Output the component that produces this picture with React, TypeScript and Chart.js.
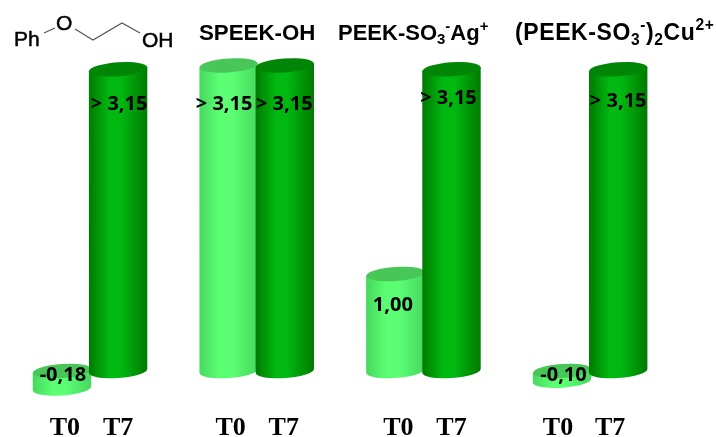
import React, { useEffect, useRef } from "react";
import { Chart, BarController, BarElement, CategoryScale, LinearScale } from "chart.js";

const categories = ["Ph-O-CH2CH2-OH", "SPEEK-OH", "PEEK-SO3-Ag+", "(PEEK-SO3-)2Cu2+"];
const seriesNames = ["T0", "T7"];
const t0Values = [-0.18, 3.15, 1.0, -0.1];
const t7Values = [3.11, 3.15, 3.11, 3.11];
const t0Labels = ["-0,18", "> 3,15", "1,00", "-0,10"];
const t7Labels = ["> 3,15", "> 3,15", "> 3,15", "> 3,15"];

const t0Offsets = [[1, 4], [-4.5, 38.5], [-2.5, 31], [1.5, 4]];
const t7Offsets = [[1, 35], [-0.5, 38.5], [-3, 29], [0, 32]];
const t0TickDx = [3, 2, 3, -4];
const t7TickDx = [0, -1, 0, -8];

type Seg = { t: string; k?: "sub" | "sup" };
const titleParts: (Seg[] | null)[] = [
  null,
  [{ t: "SPEEK-OH" }],
  [{ t: "PEEK-SO" }, { t: "3", k: "sub" }, { t: "-", k: "sup" }, { t: "Ag" }, { t: "+", k: "sup" }],
  [{ t: "(PEEK-SO" }, { t: "3", k: "sub" }, { t: "-", k: "sup" }, { t: ")" }, { t: "2", k: "sub" }, { t: "Cu" }, { t: "2+", k: "sup" }],
];
const titleStart = [0, 199, 338, 515];
const titleSize = [0, 22.3, 22, 23];
const titleSpacing = [0, 0, 0, 0.6];
const SANS = '"Liberation Sans", Arial, sans-serif';

class CylinderBar extends BarElement {
  static id = "cylinderBar";
  draw(ctx: CanvasRenderingContext2D) {
    const { x, y, base, width } = (this as any).getProps(["x", "y", "base", "width"]);
    const o = (this as any).options;
    const top = Math.min(y, base);
    const bottom = Math.max(y, base);
    const rx = width / 2;
    const ry = 7;
    const rot = -0.07;
    const l = x - rx;
    const r = x + rx;
    const tilt = rx * Math.sin(rot);
    const g = ctx.createLinearGradient(l, 0, r, 0);
    const [edge, mid, cap] = o.backgroundColor.split("|");
    g.addColorStop(0, edge);
    g.addColorStop(0.35, mid);
    g.addColorStop(0.55, mid);
    g.addColorStop(1, edge);
    ctx.save();
    ctx.fillStyle = g;
    ctx.beginPath();
    ctx.moveTo(l, top - tilt);
    ctx.lineTo(r, top + tilt);
    ctx.lineTo(r, bottom + tilt);
    ctx.ellipse(x, bottom, rx, ry, rot, 0, Math.PI);
    ctx.closePath();
    ctx.fill();
    ctx.fillStyle = cap;
    ctx.beginPath();
    ctx.ellipse(x, top, rx, ry, rot, 0, Math.PI * 2);
    ctx.fill();
    ctx.restore();
  }
}
class CylinderController extends BarController {
  static id = "cylinder";
  static defaults = { ...(BarController as any).defaults, dataElementType: "cylinderBar" };
  static overrides = (BarController as any).overrides;
}

function drawRich(ctx: CanvasRenderingContext2D, segs: Seg[], x: number, y: number, size: number, spacing: number) {
  let cx = x;
  (ctx as any).letterSpacing = `${spacing}px`;
  segs.forEach((s) => {
    const small = s.k !== undefined;
    ctx.font = `bold ${small ? size * 0.68 : size}px ${SANS}`;
    const dy = s.k === "sub" ? size * 0.2 : s.k === "sup" ? -size * 0.42 : 0;
    ctx.fillText(s.t, cx, y + dy);
    cx += ctx.measureText(s.t).width;
  });
  (ctx as any).letterSpacing = "0px";
}

const decor = {
  id: "decor",
  beforeDatasetsDraw(chart: any) {
    [0, 1].forEach((i) => chart.getDatasetMeta(i).controller.draw());
    return false;
  },
  afterDraw(chart: any) {
    const ctx: CanvasRenderingContext2D = chart.ctx;
    ctx.save();
    ctx.fillStyle = "#000";
    const sets = [
      { labels: t0Labels, off: t0Offsets, dx: t0TickDx },
      { labels: t7Labels, off: t7Offsets, dx: t7TickDx },
    ];
    sets.forEach((s, i) => {
      chart.getDatasetMeta(i).data.forEach((bar: any, j: number) => {
        const upper = Math.min(bar.y, bar.base);
        ctx.font = 'bold 20px "Open Sans", sans-serif';
        ctx.textAlign = "center";
        ctx.textBaseline = "middle";
        ctx.fillText(s.labels[j], bar.x + s.off[j][0], upper + s.off[j][1]);
        ctx.font = 'bold 26px "Liberation Serif", serif';
        ctx.textBaseline = "alphabetic";
        ctx.fillText(seriesNames[i], bar.x + s.dx[j], 435);
      });
    });
    ctx.textAlign = "left";
    ctx.textBaseline = "alphabetic";
    titleParts.forEach((segs, i) => {
      if (segs) drawRich(ctx, segs, titleStart[i], 40, titleSize[i], titleSpacing[i]);
    });
    ctx.font = `21px ${SANS}`;
    ctx.lineWidth = 0.5;
    ctx.strokeStyle = "#000";
    [["Ph", 14, 46], ["O", 56, 30], ["OH", 142, 47]].forEach(([t, x, y]) => {
      ctx.fillText(t as string, x as number, y as number);
      ctx.strokeText(t as string, x as number, y as number);
    });
    ctx.strokeStyle = "#555";
    ctx.lineWidth = 1.2;
    ctx.beginPath();
    ctx.moveTo(44, 33);
    ctx.lineTo(55, 28);
    ctx.moveTo(75, 29);
    ctx.lineTo(93, 40);
    ctx.lineTo(122, 23);
    ctx.lineTo(140, 33);
    ctx.stroke();
    ctx.restore();
  },
};

Chart.register(CategoryScale, LinearScale, BarController, BarElement, CylinderBar as any, CylinderController as any);

export default function App() {
  const ref = useRef<HTMLCanvasElement>(null);
  useEffect(() => {
    const chart = new Chart(ref.current!, {
      type: "cylinder" as any,
      data: {
        labels: categories,
        datasets: [
          { label: seriesNames[0], data: t0Values, backgroundColor: "#46d85e|#5cff74|#48c658" },
          { label: seriesNames[1], data: t7Values, backgroundColor: "#007a00|#00b810|#008506" },
        ],
      },
      options: {
        responsive: false,
        animation: false,
        events: [],
        layout: { padding: { left: 6.65, right: 42.55, top: 31.5, bottom: 17.5 } },
        datasets: { cylinder: { categoryPercentage: 0.674, barPercentage: 1.04 } } as any,
        plugins: { legend: { display: false }, tooltip: { enabled: false } } as any,
        scales: {
          x: { type: "category", display: false, offset: true, grid: { offset: true } },
          y: { type: "linear", display: false, min: -0.5, max: 3.5 },
        },
      },
      plugins: [decor],
    } as any);
    return () => chart.destroy();
  }, []);
  return (
    <canvas
      ref={ref}
      width={716}
      height={437}
      style={{ position: "fixed", left: 0, top: 0, width: 716, height: 437, background: "#fff" }}
    />
  );
}
